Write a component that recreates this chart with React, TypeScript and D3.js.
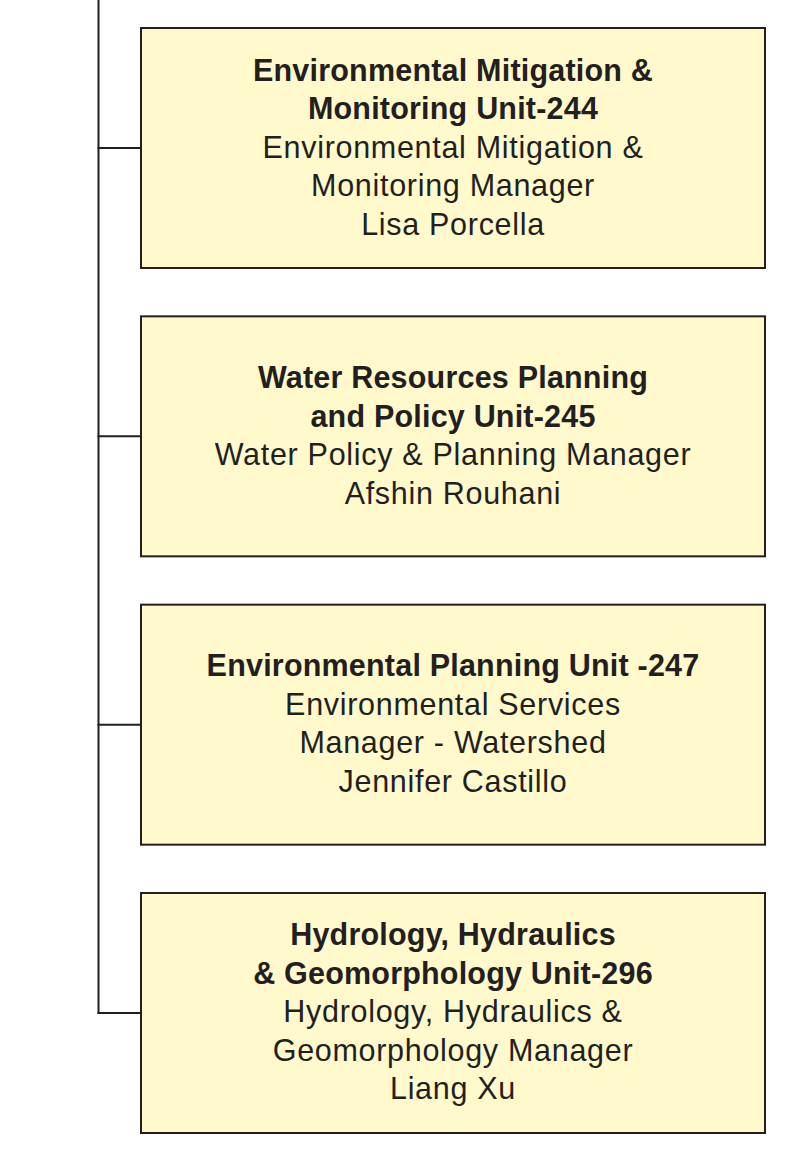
import React from 'react';
import * as d3 from 'd3';

const unitNames: string[][] = [
  ['Environmental Mitigation &', 'Monitoring Unit-244'],
  ['Water Resources Planning', 'and Policy Unit-245'],
  ['Environmental Planning Unit -247'],
  ['Hydrology, Hydraulics', '& Geomorphology Unit-296'],
];

const managerTitles: string[][] = [
  ['Environmental Mitigation &', 'Monitoring Manager'],
  ['Water Policy & Planning Manager'],
  ['Environmental Services', 'Manager - Watershed'],
  ['Hydrology, Hydraulics &', 'Geomorphology Manager'],
];

const managerNames: string[] = ['Lisa Porcella', 'Afshin Rouhani', 'Jennifer Castillo', 'Liang Xu'];

const width = 808;
const height = 1167;
const trunkX = 98.5;
const boxLeft = 141;
const boxRight = 765;
const lineHeight = 38.5;
const stroke = '#231f20';

const App: React.FC = () => {
  const y = d3
    .scaleBand<number>()
    .domain(d3.range(unitNames.length))
    .range([28, 1133])
    .paddingInner(0.1676)
    .paddingOuter(0);

  const mids = unitNames.map((_, i) => (y(i) as number) + y.bandwidth() / 2);
  const cx = (boxLeft + boxRight) / 2;

  return (
    <svg
      width={width}
      height={height}
      style={{ position: 'absolute', left: 0, top: 0, background: '#fff' }}
      fontFamily="'Liberation Sans', Arial, sans-serif"
    >
      <line x1={trunkX} x2={trunkX} y1={0} y2={mids[mids.length - 1] + 1} stroke={stroke} strokeWidth={2} />
      {unitNames.map((unit, i) => {
        const top = y(i) as number;
        const lines = [
          ...unit.map((t) => ({ t, bold: true })),
          ...managerTitles[i].map((t) => ({ t, bold: false })),
          { t: managerNames[i], bold: false },
        ];
        const firstBase = mids[i] - ((lines.length - 1) / 2) * lineHeight + 9.5;
        return (
          <g key={i}>
            <line x1={trunkX - 1} x2={boxLeft} y1={mids[i]} y2={mids[i]} stroke={stroke} strokeWidth={2} />
            <rect
              x={boxLeft}
              y={top}
              width={boxRight - boxLeft}
              height={y.bandwidth()}
              fill="#fff9cc"
              stroke={stroke}
              strokeWidth={2}
            />
            {lines.map((l, j) => (
              <text
                key={j}
                x={cx}
                y={firstBase + j * lineHeight}
                textAnchor="middle"
                fontSize={30.5}
                letterSpacing={l.bold ? 0.2 : 0.7}
                fontWeight={l.bold ? 'bold' : 'normal'}
                fill={stroke}
              >
                {l.t}
              </text>
            ))}
          </g>
        );
      })}
    </svg>
  );
};

export default App;
